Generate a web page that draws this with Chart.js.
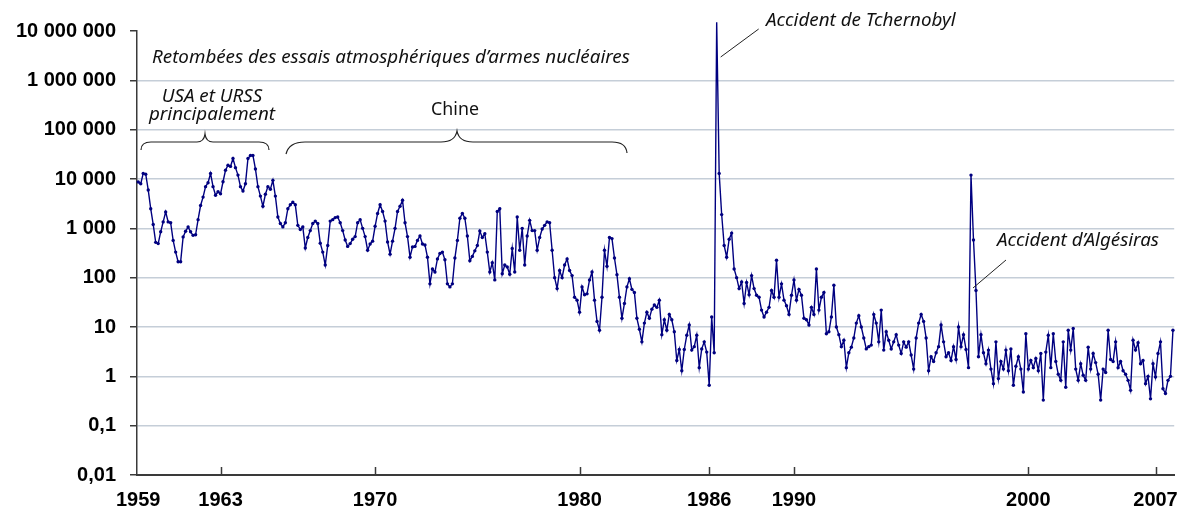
<!DOCTYPE html>
<html>
<head>
<meta charset="utf-8">
<script src="https://cdn.jsdelivr.net/npm/chart.js@4.4.1/dist/chart.umd.min.js"></script>
<style>
  html, body { margin: 0; padding: 0; background: #ffffff; }
  canvas { display: block; }
</style>
</head>
<body>
<canvas id="chart" width="1191" height="513"></canvas>
<script>
// ---- Data ----
const yearLabels = ['1959', '1963', '1970', '1980', '1986', '1990', '2000', '2007'];

const values1959to1962 = [8700, 8000, 13000, 12500, 6000, 2500, 1200, 520, 490, 850,
  1350, 2150, 1350, 1300, 570, 330, 210, 210, 670, 870,
  1070, 850, 720, 740, 1500, 2900, 4300, 7000, 8400, 13000,
  7000, 4700, 5500];

const values1963to1969 = [5000, 8800, 15000, 19000, 18000, 26000, 17000, 12000, 7000, 5700,
  8000, 26000, 30000, 30000, 16000, 7000, 4500, 2800, 4900, 7000,
  6200, 9400, 4500, 1700, 1250, 1070, 1300, 2500, 3000, 3400,
  3000, 1150, 950, 1070, 400, 650, 900, 1250, 1400, 1250,
  500, 330, 180, 450, 1400, 1500, 1650, 1700, 1300, 900,
  580, 430, 490, 600, 680, 1300, 1500, 1000, 680, 360,
  480, 550];

const values1970to1979 = [1100, 2000, 3000, 2200, 1400, 530, 300, 550, 1000, 2200,
  2800, 3700, 1300, 680, 260, 420, 430, 570, 700, 480,
  460, 260, 75, 150, 130, 240, 310, 330, 230, 75,
  65, 75, 250, 570, 1600, 2000, 1600, 700, 220, 270,
  350, 450, 880, 650, 780, 330, 130, 200, 90, 2200,
  2500, 120, 180, 165, 117, 390, 130, 1700, 360, 1000,
  180, 700, 1450, 900, 900, 360, 650, 970, 1150, 1350,
  1300, 360, 100, 60, 140, 100, 180, 240, 140, 110,
  40, 35];

const values1980to1985 = [20, 65, 45, 47, 90, 130, 35, 13, 8.6, 40,
  360, 170, 650, 620, 250, 115, 40, 15, 30, 65,
  95, 58, 50, 15, 9, 5, 12, 20, 15, 23,
  28, 25, 35, 7, 14, 8.6, 18, 14, 8, 2.1,
  3.5, 1.3, 3.5, 6.8, 11, 3.4, 4, 6.8, 1.5, 3.6,
  5, 3.1];

const values1986to1989 = [0.66, 16, 3, 15000000, 13000, 1900, 450, 260, 600, 800,
  150, 100, 60, 82, 30, 80, 45, 110, 60, 44,
  40, 22, 16, 20, 25, 55, 40, 225, 40, 75,
  35, 27, 18, 44];

const values1990to1999 = [90, 35, 58, 44, 15, 14, 11, 25, 18, 150,
  22, 40, 50, 7.3, 8, 16, 70, 10, 7, 4,
  5.4, 1.5, 3, 3.9, 6, 12, 17, 10, 6, 3.6,
  4, 4.3, 18, 12, 5, 22, 3.4, 8, 5.4, 3.6,
  5, 7, 4.3, 2.9, 5, 3.9, 5, 2.7, 1.4, 6,
  12, 18, 13, 6, 1.3, 2.5, 2, 3, 4, 11,
  5, 2.5, 3, 2.1, 4, 2.2, 10, 4, 7, 3.5,
  1.5, 12000, 580, 55, 2.5, 7, 3, 1.8, 3.4, 1.4,
  0.71, 5, 0.9, 2, 1.4, 3.4, 1.3, 3.6, 0.66, 1.6,
  2.5, 1.4, 0.48, 7.3];

const values2000to2006 = [1.4, 2.1, 1.5, 2.3, 1.3, 2.9, 0.33, 3.1, 6.8, 1.5,
  7.3, 2, 1.1, 0.83, 5, 0.6, 8.6, 3.4, 9.3, 1.4,
  0.83, 1.8, 1.05, 0.83, 3.9, 1.4, 2.9, 1.9, 1.1, 0.33,
  1.4, 1.2, 8.6, 2.2, 2, 5, 1.5, 2, 1.3, 1.1,
  0.83, 0.52, 5.4, 3.4, 4.8, 1.8, 2.1, 0.71, 1, 0.35,
  1.8];

const values2007on = [0.97, 2.9, 5, 0.56, 0.45, 0.83, 1.0, 8.6];

const yTickValues = [0.01, 0.1, 1, 10, 100, 1000, 10000, 100000, 1000000, 10000000];

// ---- Build series from the arrays ----
const segments = [values1959to1962, values1963to1969, values1970to1979, values1980to1985,
  values1986to1989, values1990to1999, values2000to2006, values2007on];
const yearStartIndex = [];
let allValues = [];
segments.forEach(seg => { yearStartIndex.push(allValues.length); allValues = allValues.concat(seg); });
const points = allValues.map((v, i) => ({ x: i, y: v }));

const chernobylIndex = allValues.indexOf(Math.max(...allValues));
const afterChernobyl = allValues.slice(yearStartIndex[5]);
const algesirasIndex = yearStartIndex[5] + afterChernobyl.indexOf(Math.max(...afterChernobyl));

function formatFr(v) {
  if (v < 1) return String(v).replace('.', ',');
  return Math.round(v).toString().replace(/\B(?=(\d{3})+(?!\d))/g, ' ');
}

const axisFont = { family: '"Liberation Sans", Arial, sans-serif', size: 20, weight: 'bold' };
const noteFont = '"Noto Sans", "DejaVu Sans", sans-serif';

const annotate = {
  id: 'annotate',
  afterDraw(chart) {
    const { ctx, chartArea: a, scales: { x } } = chart;
    ctx.save();
    // inward x tick marks
    ctx.strokeStyle = '#3a3a3a';
    ctx.lineWidth = 1.5;
    x.ticks.forEach(t => {
      const px = Math.round(x.getPixelForValue(t.value)) + 0.5;
      if (px - a.left < 4) return;
      ctx.beginPath();
      ctx.moveTo(px, a.bottom);
      ctx.lineTo(px, a.bottom - 8);
      ctx.stroke();
    });

    ctx.fillStyle = '#111';
    ctx.textBaseline = 'alphabetic';
    // main note
    ctx.font = 'italic 18.8px ' + noteFont;
    ctx.textAlign = 'left';
    ctx.fillText('Retombées des essais atmosphériques d\u2019armes nucléaires', a.left + 15, 62.5);

    // USA et URSS
    ctx.textAlign = 'center';
    ctx.fillText('USA et URSS', 212, 101.5);
    ctx.fillText('principalement', 212, 119.5);

    // Chine
    ctx.font = '17.8px ' + noteFont;
    ctx.fillText('Chine', 455, 115);

    // braces
    ctx.strokeStyle = '#222';
    ctx.lineWidth = 1.2;
    ctx.beginPath();
    ctx.moveTo(141, 150);
    ctx.quadraticCurveTo(141, 142, 151, 142);
    ctx.lineTo(197, 142);
    ctx.quadraticCurveTo(204, 142, 205, 134);
    ctx.quadraticCurveTo(206, 142, 213, 142);
    ctx.lineTo(259, 142);
    ctx.quadraticCurveTo(269, 142, 269, 150);
    ctx.stroke();

    ctx.beginPath();
    ctx.moveTo(286, 154);
    ctx.quadraticCurveTo(289, 142, 305, 142);
    ctx.lineTo(441, 142);
    ctx.quadraticCurveTo(455, 142, 457, 131);
    ctx.quadraticCurveTo(459, 142, 473, 142);
    ctx.lineTo(612, 142);
    ctx.quadraticCurveTo(626, 142, 627, 153);
    ctx.stroke();

    // Chernobyl label
    const cx = x.getPixelForValue(chernobylIndex);
    ctx.lineWidth = 1;
    ctx.beginPath();
    ctx.moveTo(cx + 4, 57);
    ctx.lineTo(cx + 42, 29);
    ctx.stroke();
    ctx.font = 'italic 18.8px ' + noteFont;
    ctx.textAlign = 'left';
    ctx.fillText('Accident de Tchernobyl', 766, 25.5);

    // Algesiras label
    const gx = x.getPixelForValue(algesirasIndex);
    ctx.beginPath();
    ctx.moveTo(gx + 2, 288);
    ctx.lineTo(gx + 35, 260);
    ctx.stroke();
    ctx.fillText('Accident d\u2019Algésiras', 997, 246);
    ctx.restore();
  }
};

new Chart(document.getElementById('chart'), {
  type: 'line',
  data: {
    datasets: [{
      data: points,
      borderColor: '#000080',
      backgroundColor: '#000080',
      borderWidth: 1.4,
      pointRadius: 1.7,
      pointHoverRadius: 1.7,
      pointBorderWidth: 0,
      tension: 0,
      clip: false
    }]
  },
  options: {
    responsive: false,
    animation: false,
    devicePixelRatio: 1,
    layout: { padding: { top: 31, right: 14, left: 0, bottom: 0 } },
    plugins: { legend: { display: false }, tooltip: { enabled: false } },
    scales: {
      x: {
        type: 'linear',
        min: -0.5,
        max: allValues.length - 0.5,
        bounds: 'data',
        grid: { display: false, drawTicks: false },
        border: { display: true, color: '#3a3a3a', width: 2 },
        ticks: {
          autoSkip: false, maxRotation: 0, padding: 13, color: '#000', font: axisFont,
          callback: (v) => { const k = yearStartIndex.indexOf(v); return k >= 0 ? yearLabels[k] : ''; }
        },
        afterBuildTicks: s => { s.ticks = yearStartIndex.map(v => ({ value: v })); },
        afterFit: s => { s.height = 38; }
      },
      y: {
        type: 'logarithmic',
        min: 0.01,
        max: 10000000,
        grid: {
          color: c => (c.tick && (c.tick.value >= 10000000 || c.tick.value <= 0.01)) ? 'rgba(0,0,0,0)' : '#c5ced8',
          lineWidth: 1.5,
          tickColor: '#3a3a3a',
          tickLength: 7,
          tickWidth: 1.5
        },
        border: { display: true, color: '#3a3a3a', width: 1.5 },
        ticks: { padding: 14, color: '#000', font: axisFont, autoSkip: false, callback: v => formatFr(v) },
        afterBuildTicks: s => { s.ticks = yTickValues.map(v => ({ value: v })); },
        afterFit: s => { s.width = 137; }
      }
    }
  },
  plugins: [annotate]
});
</script>
</body>
</html>
